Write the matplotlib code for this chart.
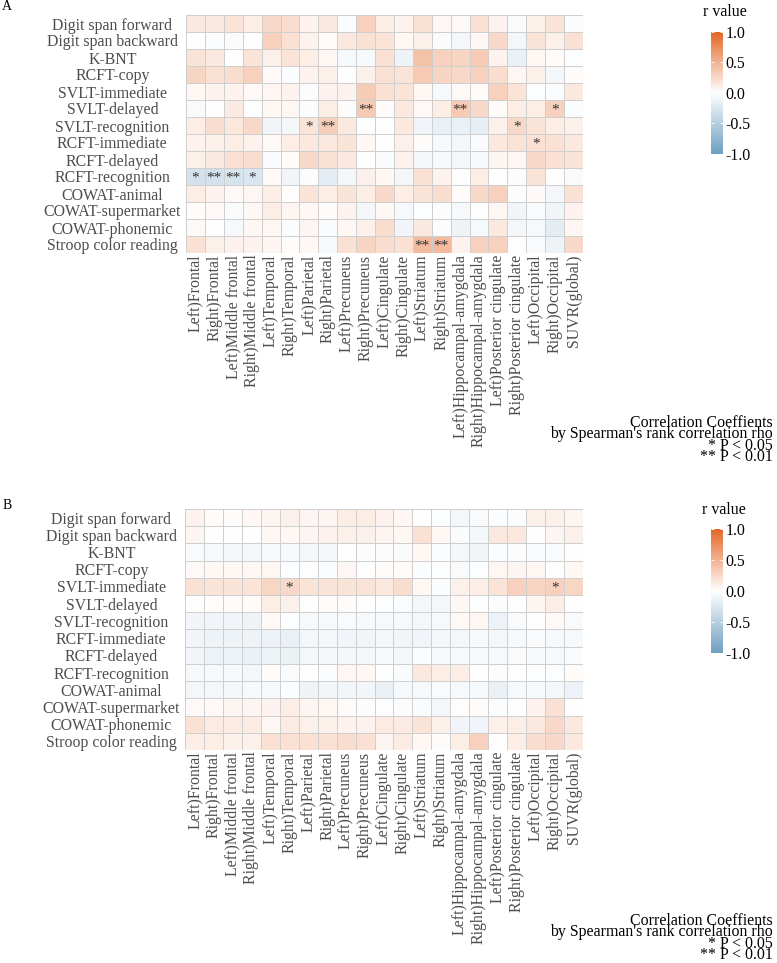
import numpy as np
import matplotlib.pyplot as plt
from matplotlib.colors import LinearSegmentedColormap

plt.rcParams['font.family'] = ['Liberation Serif', 'DejaVu Serif']

tests = ["Digit span forward", "Digit span backward", "K-BNT", "RCFT-copy",
         "SVLT-immediate", "SVLT-delayed", "SVLT-recognition", "RCFT-immediate",
         "RCFT-delayed", "RCFT-recognition", "COWAT-animal", "COWAT-supermarket",
         "COWAT-phonemic", "Stroop color reading"]

regions = ["Left)Frontal", "Right)Frontal", "Left)Middle frontal", "Right)Middle frontal",
           "Left)Temporal", "Right)Temporal", "Left)Parietal", "Right)Parietal",
           "Left)Precuneus", "Right)Precuneus", "Left)Cingulate", "Right)Cingulate",
           "Left)Striatum", "Right)Striatum", "Left)Hippocampal-amygdala",
           "Right)Hippocampal-amygdala", "Left)Posterior cingulate",
           "Right)Posterior cingulate", "Left)Occipital", "Right)Occipital", "SUVR(global)"]

# r values, panel A (rows = tests, cols = regions)
r_a = [
    [0.15, 0.15, 0.18, 0.12, 0.25, 0.22, 0.08, 0.15, -0.03, 0.30, 0.12, 0.08, 0.20, 0.06, 0.04, 0.20, 0.08, -0.05, 0.10, 0.18, -0.03],
    [0.00, -0.03, -0.04, 0.00, 0.30, 0.20, 0.08, 0.03, 0.15, 0.20, 0.18, 0.05, 0.10, -0.04, -0.08, 0.05, 0.25, -0.08, 0.18, 0.10, 0.20],
    [0.18, 0.15, 0.00, 0.18, 0.10, 0.18, 0.12, 0.05, -0.06, -0.06, 0.20, -0.12, 0.40, 0.30, 0.28, 0.35, 0.08, -0.15, 0.05, 0.03, -0.02],
    [0.28, 0.20, 0.22, 0.30, 0.04, -0.03, 0.08, 0.10, 0.00, 0.10, 0.20, 0.18, 0.35, 0.28, 0.25, 0.30, 0.22, 0.06, 0.10, -0.08, 0.03],
    [0.05, 0.08, 0.08, 0.04, 0.06, 0.08, -0.03, 0.08, 0.08, 0.33, 0.20, 0.18, 0.05, -0.06, 0.04, 0.03, 0.30, 0.18, -0.02, -0.03, 0.15],
    [-0.05, 0.00, 0.14, -0.02, 0.05, 0.06, -0.03, 0.12, 0.02, 0.35, 0.02, 0.15, 0.04, 0.12, 0.35, 0.25, 0.03, 0.12, 0.12, 0.30, -0.03],
    [0.12, 0.22, 0.16, 0.25, -0.10, -0.08, 0.18, 0.32, 0.15, 0.00, 0.00, 0.15, -0.10, -0.15, -0.15, -0.17, 0.10, 0.25, 0.18, 0.12, 0.10],
    [0.08, 0.10, 0.12, 0.08, 0.04, 0.12, 0.15, 0.15, 0.18, 0.05, 0.00, 0.10, 0.02, -0.06, -0.08, -0.04, 0.15, 0.18, 0.20, 0.20, 0.15],
    [0.10, 0.15, 0.20, 0.22, -0.04, 0.03, 0.25, 0.20, 0.15, 0.00, -0.04, 0.08, -0.08, -0.07, -0.08, -0.06, 0.07, 0.06, 0.25, 0.20, 0.18],
    [-0.30, -0.30, -0.28, -0.25, 0.04, -0.10, -0.03, -0.18, -0.08, 0.10, 0.05, -0.08, 0.20, 0.08, 0.00, 0.12, 0.00, -0.03, 0.18, 0.00, -0.05],
    [0.12, 0.08, 0.04, 0.06, 0.12, 0.00, 0.18, 0.12, 0.18, 0.12, 0.25, 0.12, 0.18, 0.22, 0.03, 0.25, 0.30, -0.03, 0.04, -0.08, 0.20],
    [0.03, 0.04, -0.04, 0.05, 0.12, 0.07, 0.05, 0.02, 0.08, -0.08, 0.05, -0.06, -0.02, -0.03, -0.06, 0.00, 0.06, -0.10, -0.05, -0.10, 0.08],
    [0.04, 0.00, -0.07, 0.05, 0.06, -0.03, 0.07, -0.04, 0.05, 0.10, 0.22, -0.10, 0.15, -0.03, -0.12, -0.06, 0.15, -0.08, -0.06, -0.18, 0.06],
    [0.20, 0.10, 0.09, 0.08, 0.07, 0.02, 0.05, -0.06, 0.20, 0.28, 0.22, 0.20, 0.45, 0.45, 0.08, 0.30, 0.30, 0.00, -0.05, -0.12, 0.25],
]

# r values, panel B
r_b = [
    [0.08, 0.03, 0.02, 0.05, 0.07, 0.10, 0.07, 0.07, 0.12, 0.12, 0.08, 0.05, 0.00, -0.02, -0.08, -0.05, -0.03, -0.03, 0.10, 0.10, 0.07],
    [0.07, 0.00, 0.00, 0.00, 0.05, 0.05, 0.07, 0.08, 0.10, 0.10, 0.07, 0.05, 0.20, 0.05, -0.04, -0.08, 0.15, 0.15, 0.00, 0.07, 0.10],
    [-0.05, -0.07, -0.08, -0.08, -0.07, -0.07, -0.08, -0.08, 0.00, -0.03, 0.02, -0.04, 0.05, -0.03, -0.08, -0.10, -0.03, -0.03, -0.05, -0.05, 0.00],
    [0.04, 0.05, 0.05, 0.05, 0.06, -0.02, -0.02, -0.03, 0.06, 0.00, 0.03, 0.03, -0.03, -0.02, -0.05, -0.02, 0.06, 0.07, 0.06, 0.00, 0.05],
    [0.20, 0.18, 0.18, 0.18, 0.27, 0.25, 0.18, 0.18, 0.18, 0.18, 0.15, 0.22, 0.05, -0.03, 0.10, 0.12, 0.18, 0.30, 0.28, 0.30, 0.27],
    [0.00, 0.01, 0.02, 0.03, 0.12, 0.10, 0.00, 0.02, 0.02, 0.00, -0.02, -0.03, -0.08, -0.08, 0.05, -0.02, -0.03, 0.00, 0.07, 0.12, 0.00],
    [-0.10, -0.10, -0.10, -0.12, 0.04, -0.02, -0.07, -0.07, -0.05, -0.07, -0.07, -0.07, -0.08, -0.07, 0.04, 0.06, -0.13, -0.05, 0.00, 0.04, -0.05],
    [-0.10, -0.12, -0.12, -0.12, -0.13, -0.15, -0.08, -0.08, -0.10, -0.10, -0.08, -0.10, -0.10, -0.08, -0.08, -0.06, -0.08, -0.06, -0.05, -0.06, -0.06],
    [-0.10, -0.13, -0.12, -0.15, -0.12, -0.14, -0.08, -0.08, -0.08, -0.08, -0.07, -0.08, -0.03, -0.06, -0.06, -0.06, -0.06, -0.05, -0.07, -0.07, -0.04],
    [-0.06, -0.07, -0.07, -0.08, 0.03, -0.05, 0.00, -0.03, 0.06, 0.05, -0.01, -0.04, 0.15, 0.12, 0.12, 0.00, -0.03, 0.00, -0.02, -0.02, 0.03],
    [-0.08, -0.08, -0.08, -0.07, -0.06, -0.03, -0.12, -0.09, -0.09, -0.09, -0.15, -0.06, -0.06, -0.05, -0.06, -0.07, -0.15, -0.07, -0.06, -0.08, -0.13],
    [0.04, 0.04, 0.07, 0.07, 0.08, 0.12, 0.07, 0.06, 0.02, 0.02, -0.02, 0.02, -0.04, -0.08, 0.01, 0.02, -0.03, 0.00, 0.08, 0.20, 0.00],
    [0.20, 0.13, 0.13, 0.13, 0.06, 0.13, 0.10, 0.10, 0.08, 0.08, 0.13, 0.13, 0.18, 0.10, -0.10, -0.10, 0.10, 0.12, 0.15, 0.25, 0.15],
    [0.12, 0.12, 0.10, 0.10, 0.20, 0.20, 0.20, 0.20, 0.22, 0.20, 0.07, 0.13, 0.05, 0.02, 0.12, 0.30, 0.01, 0.12, 0.22, 0.25, 0.15],
]

# significance marks: (row, col, mark)
sig_a = [(5, 9, "**"), (5, 14, "**"), (5, 19, "*"),
         (6, 6, "*"), (6, 7, "**"), (6, 17, "*"),
         (7, 18, "*"),
         (9, 0, "*"), (9, 1, "**"), (9, 2, "**"), (9, 3, "*"),
         (13, 12, "**"), (13, 13, "**")]
sig_b = [(4, 5, "*"), (4, 19, "*")]

caption = ["Correlation Coeffients", "by Spearman's rank correlation rho",
           "* P < 0.05", "** P < 0.01"]

cmap = LinearSegmentedColormap.from_list("corr", ["#6D9EC1", "white", "#E46726"])

W, H = 777, 963
FS = 11.4
fig = plt.figure(figsize=(W / 100, H / 100), dpi=100)


def box(l, t, r, b):
    return [l / W, 1 - b / H, (r - l) / W, (b - t) / H]


def panel(ax, cax, vals, sig, letter, top):
    vals = np.array(vals)
    nr, nc = vals.shape
    mesh = ax.pcolormesh(np.arange(nc + 1), np.arange(nr + 1), vals, cmap=cmap,
                         vmin=-1, vmax=1, edgecolors='#cfcfcf', linewidth=0.4)
    ax.set_xlim(0, nc)
    ax.set_ylim(nr, 0)
    ax.set_xticks(np.arange(nc) + 0.5)
    ax.set_xticklabels(regions, rotation=90, fontsize=FS, color='#4d4d4d')
    ax.set_yticks(np.arange(nr) + 0.5)
    ax.set_yticklabels(tests, fontsize=FS, color='#4d4d4d', ha='center')
    ax.tick_params(axis='y', length=0, pad=53)
    ax.tick_params(axis='x', length=0, pad=1)
    for s in ax.spines.values():
        s.set_visible(False)
    for r, c, m in sig:
        ax.text(c + 0.5, r + 0.62, m, ha='center', va='center', fontsize=11,
                color='#333333')

    cb = fig.colorbar(mesh, cax=cax, ticks=[-1, -0.5, 0, 0.5, 1])
    cb.outline.set_visible(False)
    cb.ax.set_yticklabels(["-1.0", "-0.5", "0.0", "0.5", "1.0"], fontsize=FS)
    cb.ax.tick_params(length=2.5, width=0.6, color='white', direction='in',
                      left=True, right=True, pad=2)

    fig.text(7 / W, 1 - (top - 8) / H, letter, ha='center', va='center', fontsize=10)


ax_a = fig.add_axes(box(186, 15, 583, 253))
cax_a = fig.add_axes(box(711, 32, 723, 154))
panel(ax_a, cax_a, r_a, sig_a, "A", 15)
fig.text(703 / W, 1 - 16 / H, "r value", ha='left', va='baseline', fontsize=FS)
for i, line in enumerate(caption):
    fig.text(773 / W, 1 - (427 + 11.3 * i) / H, line, ha='right', va='baseline',
             fontsize=FS)

ax_b = fig.add_axes(box(185, 509, 583, 750))
cax_b = fig.add_axes(box(711, 529, 723, 653))
panel(ax_b, cax_b, r_b, sig_b, "B", 513)
fig.text(702 / W, 1 - 514 / H, "r value", ha='left', va='baseline', fontsize=FS)
for i, line in enumerate(caption):
    fig.text(773 / W, 1 - (925 + 11.3 * i) / H, line, ha='right', va='baseline',
             fontsize=FS)

fig.savefig("out.png", dpi=100)
